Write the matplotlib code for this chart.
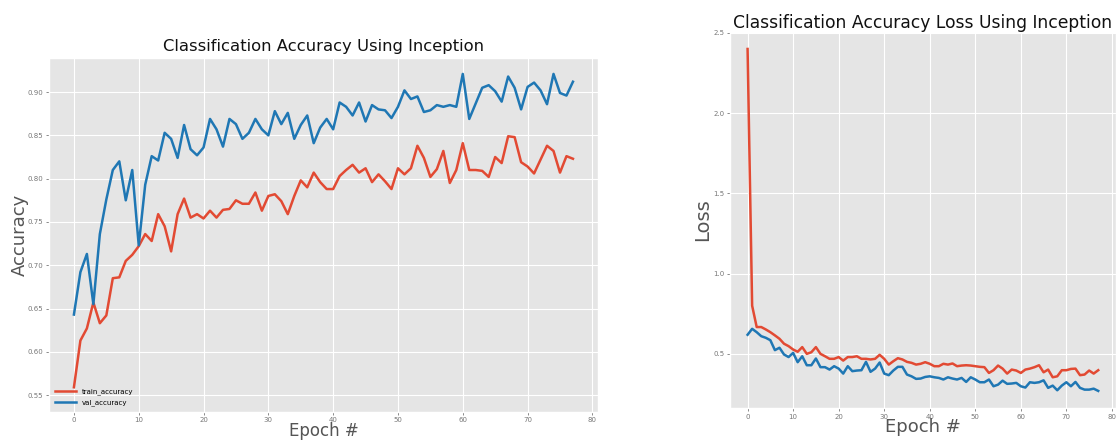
import numpy as np
import matplotlib
matplotlib.use('Agg')
import matplotlib.pyplot as plt

plt.style.use('ggplot')

# accuracy per epoch
train_acc = [0.559, 0.613, 0.627, 0.657, 0.633, 0.642, 0.685, 0.686, 0.705, 0.712,
             0.722, 0.736, 0.728, 0.759, 0.745, 0.716, 0.759, 0.777, 0.755, 0.759,
             0.754, 0.763, 0.755, 0.764, 0.765, 0.775, 0.771, 0.771, 0.784, 0.763,
             0.780, 0.782, 0.774, 0.759, 0.780, 0.798, 0.790, 0.807, 0.796, 0.788,
             0.788, 0.803, 0.810, 0.816, 0.807, 0.812, 0.796, 0.805, 0.797, 0.788,
             0.812, 0.805, 0.812, 0.838, 0.824, 0.802, 0.811, 0.832, 0.795, 0.810,
             0.841, 0.810, 0.810, 0.809, 0.802, 0.825, 0.818, 0.849, 0.848, 0.819,
             0.814, 0.806, 0.822, 0.838, 0.832, 0.807, 0.826, 0.823]
val_acc = [0.643, 0.692, 0.713, 0.655, 0.736, 0.776, 0.810, 0.820, 0.775, 0.810,
           0.723, 0.793, 0.826, 0.821, 0.853, 0.846, 0.824, 0.862, 0.834, 0.827,
           0.836, 0.869, 0.857, 0.837, 0.869, 0.863, 0.846, 0.853, 0.869, 0.857,
           0.850, 0.878, 0.863, 0.876, 0.846, 0.862, 0.873, 0.841, 0.859, 0.869,
           0.857, 0.888, 0.883, 0.873, 0.888, 0.866, 0.885, 0.880, 0.879, 0.870,
           0.883, 0.902, 0.892, 0.895, 0.877, 0.879, 0.885, 0.883, 0.885, 0.883,
           0.921, 0.869, 0.887, 0.905, 0.908, 0.901, 0.889, 0.918, 0.905, 0.880,
           0.906, 0.911, 0.902, 0.886, 0.921, 0.899, 0.896, 0.912]

# loss per epoch
train_loss = [2.40, 0.80, 0.667, 0.667, 0.652, 0.635, 0.615, 0.594, 0.563, 0.548,
              0.527, 0.513, 0.542, 0.500, 0.510, 0.542, 0.500, 0.485, 0.469, 0.469,
              0.480, 0.458, 0.480, 0.480, 0.485, 0.469, 0.469, 0.465, 0.469, 0.494,
              0.469, 0.433, 0.454, 0.473, 0.465, 0.450, 0.444, 0.433, 0.438, 0.448,
              0.438, 0.423, 0.423, 0.438, 0.433, 0.440, 0.423, 0.427, 0.429, 0.427,
              0.423, 0.419, 0.417, 0.381, 0.398, 0.427, 0.408, 0.377, 0.402, 0.396,
              0.381, 0.402, 0.408, 0.417, 0.429, 0.385, 0.402, 0.354, 0.360, 0.398,
              0.398, 0.406, 0.408, 0.367, 0.371, 0.396, 0.377, 0.398]
val_loss = [0.619, 0.656, 0.635, 0.610, 0.600, 0.585, 0.523, 0.538, 0.496, 0.480,
            0.506, 0.448, 0.485, 0.429, 0.429, 0.471, 0.417, 0.417, 0.402, 0.423,
            0.408, 0.377, 0.423, 0.392, 0.396, 0.398, 0.450, 0.388, 0.408, 0.446,
            0.377, 0.367, 0.396, 0.419, 0.419, 0.371, 0.360, 0.344, 0.346, 0.356,
            0.360, 0.354, 0.350, 0.340, 0.354, 0.346, 0.340, 0.350, 0.325, 0.354,
            0.340, 0.323, 0.323, 0.340, 0.298, 0.308, 0.333, 0.313, 0.315, 0.319,
            0.298, 0.290, 0.323, 0.319, 0.323, 0.335, 0.288, 0.302, 0.273, 0.302,
            0.323, 0.298, 0.325, 0.288, 0.277, 0.277, 0.283, 0.269]

epochs = np.arange(len(train_acc))
red, blue = '#E24A33', '#1f77b4'

fig = plt.figure(figsize=(11.18, 4.42), dpi=100)
fig.patch.set_facecolor('white')

ax1 = fig.add_axes([0.0438, 0.068, 0.491, 0.80])
ax1.plot(epochs, train_acc, color=red, lw=1.8, label='train_accuracy')
ax1.plot(epochs, val_acc, color=blue, lw=1.8, label='val_accuracy')
ax1.set_ylim(0.5305, 0.939)
ax1.set_xticks(range(0, 81, 10))
ax1.set_yticks([0.55, 0.60, 0.65, 0.70, 0.75, 0.80, 0.85, 0.90])
ax1.set_title('Classification Accuracy Using Inception', fontsize=11.8, color='#111111', pad=5)
ax1.set_xlabel('Epoch #', fontsize=12, color='#555555', labelpad=-1)
ax1.set_ylabel('Accuracy', fontsize=13, color='#555555', labelpad=-1)
ax1.legend(loc='lower left', fontsize=5, frameon=False, handlelength=3)

ax2 = fig.add_axes([0.653, 0.0769, 0.345, 0.851])
ax2.plot(epochs, train_loss, color=red, lw=1.8, label='train_loss')
ax2.plot(epochs, val_loss, color=blue, lw=1.8, label='val_loss')
ax2.set_xticks(range(0, 81, 10))
ax2.set_yticks([0.5, 1.0, 1.5, 2.0, 2.5])
ax2.set_title('Classification Accuracy Loss Using Inception', fontsize=12.3, color='#111111', pad=3)
ax2.set_xlabel('Epoch #', fontsize=13, color='#555555', labelpad=-1)
ax2.set_ylabel('Loss', fontsize=14, color='#555555', labelpad=1)

for ax in (ax1, ax2):
    ax.tick_params(labelsize=5, colors='#777777', length=2, width=0.6, pad=2)

fig.savefig('out.png', dpi=100)
